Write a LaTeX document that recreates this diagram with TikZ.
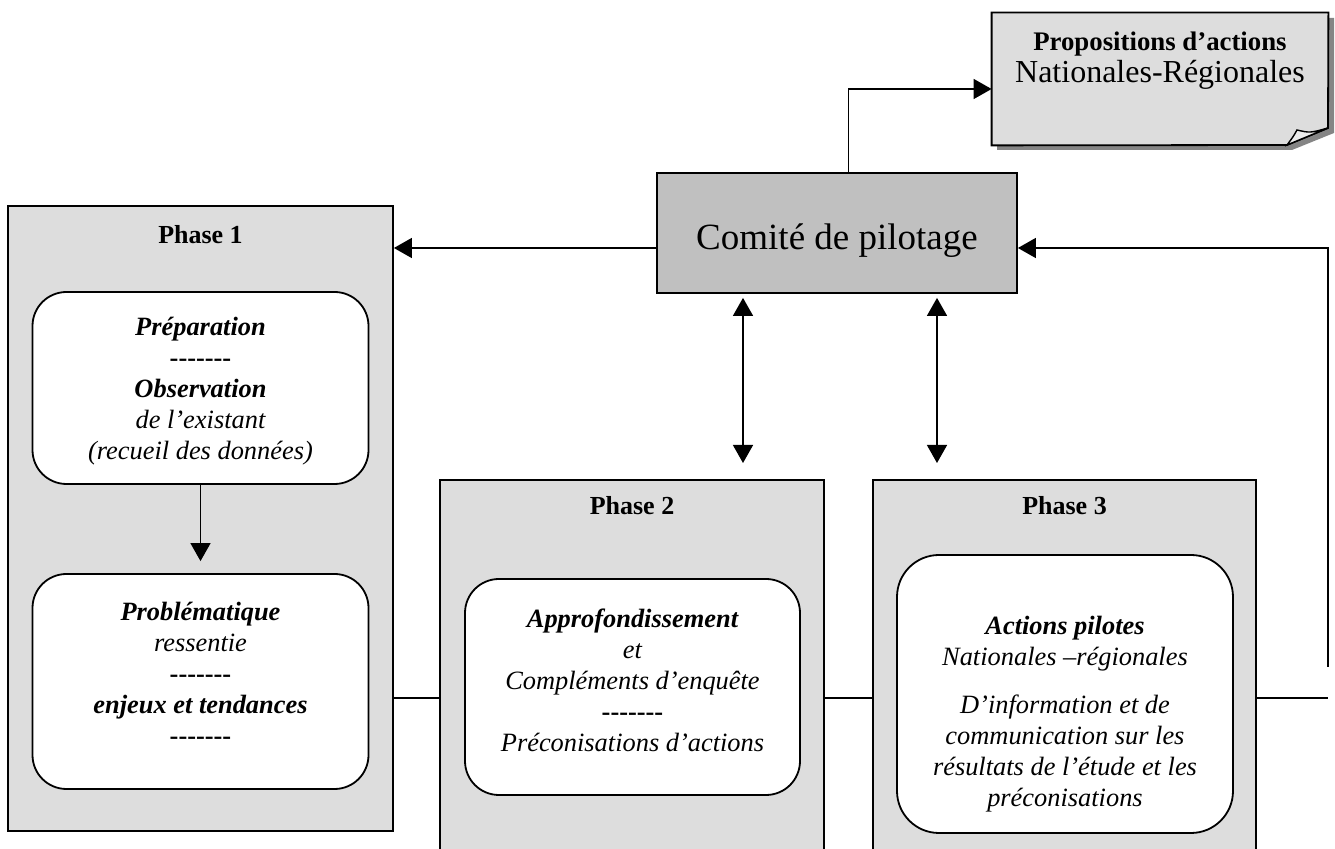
\documentclass[tikz,border=0pt]{standalone}
\usepackage{fontspec}
\setmainfont{Liberation Serif}
\usetikzlibrary{arrows.meta}
\definecolor{phasegray}{HTML}{DDDDDD}
\definecolor{comitegray}{HTML}{C0C0C0}
\definecolor{shadowgray}{HTML}{858585}
\newcommand{\txtsize}{\fontsize{13.2pt}{15.5pt}\selectfont}
\newcommand{\dashrow}{-{}-{}-{}-{}-{}-{}-}

\begin{document}
\begin{tikzpicture}[x=0.5pt, y=-0.5pt,
    phasebox/.style={draw, line width=0.9pt, fill=phasegray},
    inbox/.style={draw, line width=0.9pt, fill=white, rounded corners=17pt, minimum width=168pt},
    phaselabel/.style={font=\fontsize{13pt}{15pt}\selectfont\bfseries},
    intext/.style={align=center, font=\txtsize\itshape},
    arr/.style={line width=0.7pt, -{Triangle[length=9pt,width=10pt]}},
    dbl/.style={line width=0.7pt, {Triangle[length=9pt,width=10pt]}-{Triangle[length=9pt,width=10pt]}},
    link/.style={line width=0.7pt}]

  \useasboundingbox (0,0) rectangle (1335,849);
  \clip (0,0) rectangle (1335,849);

  % phase 1
  \node[phasebox, minimum width=192.5pt, minimum height=312.5pt] (phaseone) at (200.5,518.5) {};
     \node[phaselabel] (labone) at (200.5,235) {Phase 1};
  \node[inbox, minimum height=96pt] (prep) at (200.5,388) {};
     \node[intext] (preptxt) at (200.5,391) {\bfseries Préparation\\ \bfseries\upshape\dashrow\\
        \bfseries Observation\\ de l’existant\\ (recueil des données)};
  \node[inbox, minimum height=107.5pt] (probl) at (200.5,681.5) {};
     \node[intext] (probltxt) at (200.5,673) {\bfseries Problématique\\ ressentie\\ \bfseries\upshape\dashrow\\
        \bfseries enjeux et tendances\\ \bfseries\upshape\dashrow};
  \draw[arr, shorten >=6pt] (prep) -- (probl);

  % phase 2
  \node[phasebox, minimum width=192pt, minimum height=195pt] (phasetwo) at (632,675) {};
     \node[phaselabel] (labtwo) at (632,506) {Phase 2};
  \node[inbox, minimum width=167.5pt, minimum height=108pt] (appro) at (632.5,687) {};
     \node[intext] (approtxt) at (632.5,680) {\bfseries Approfondissement\\ et\\ Compléments d’enquête\\
        \bfseries\upshape\dashrow\\ Préconisations d’actions};

  % phase 3
  \node[phasebox, minimum width=191.5pt, minimum height=195pt] (phasethree) at (1064.5,675) {};
     \node[phaselabel] (labthree) at (1064.5,506) {Phase 3};
  \node[inbox, rounded corners=21pt, minimum height=139pt] (actions) at (1065,694) {};
     \node[intext] (actionstxt) at (1065,714) {\bfseries Actions pilotes\\ Nationales –régionales\\[8.5pt]
        D’information et de\\ communication sur les\\ résultats de l’étude et les\\ préconisations};

  % comite
  \node[draw, line width=0.9pt, fill=comitegray, minimum width=180pt, minimum height=60pt,
        font=\fontsize{18.5pt}{22pt}\selectfont, text height=17pt, text depth=0pt] (comite) at (837,233) {Comité de pilotage};

  % propositions
  \node[minimum width=168pt, minimum height=66pt] (propos) at (1160,79) {};
  \fill[shadowgray] (997,18) -- (1334,18) -- (1334,133) -- (1292,150) -- (997,150) -- cycle;
  \draw[line width=0.9pt, fill=phasegray] (propos.north west) -- (propos.north east) -- (1328,128)
        -- (1287,145) -- (propos.south west) -- cycle;
  \draw[line width=0.7pt, fill=white!85!gray] (1287,145) -- (1328,128) .. controls (1310,133) .. (1297,130)
        .. controls (1293,137) .. (1287,145) -- cycle;
     \node[align=center, font=\fontsize{16pt}{16pt}\selectfont] (propostxt) at (1160,61)
        {{\fontsize{13.4pt}{16pt}\selectfont\bfseries Propositions d’actions}\\ Nationales-Régionales};

  % connectors
  \coordinate (bend) at (848.5,89);
  \coordinate (fbtop) at (1328,248);
  \coordinate (fbend) at (1328,667);
  \coordinate (dtwo) at (743,463);
  \coordinate (dthree) at (937,463);
  \coordinate (rowlink) at (1328,698);

  \draw[arr] (comite.north -| bend) |- (propos.west |- bend);
  \draw[arr] (comite.west |- fbtop) -- (phaseone.east |- fbtop);
  \draw[arr] (fbend) -- (fbtop) -- (comite.east |- fbtop);
  \draw[dbl, shorten <=2pt] (comite.south -| dtwo) -- (dtwo);
  \draw[dbl, shorten <=2pt] (comite.south -| dthree) -- (dthree);

  \draw[link] (phaseone.east |- rowlink) -- (phasetwo.west |- rowlink);
  \draw[link] (phasetwo.east |- rowlink) -- (phasethree.west |- rowlink);
  \draw[link] (phasethree.east |- rowlink) -- (rowlink);

\end{tikzpicture}
\end{document}
